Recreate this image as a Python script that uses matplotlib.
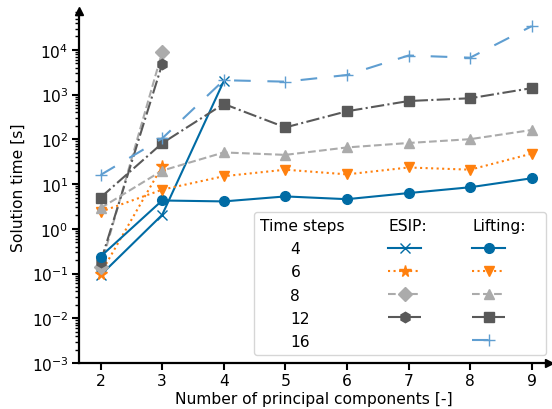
import numpy as np
import matplotlib.pyplot as plt
from matplotlib.lines import Line2D

# number of principal components
pcs = [2, 3, 4, 5, 6, 7, 8, 9]
time_steps = ["4", "6", "8", "12", "16"]

# ESIP solution times [s] (runs stop once they blow up)
esip_4 = [0.092, 2.05, 2000]
esip_6 = [0.1, 25]
esip_8 = [0.138, 8900]
esip_12 = [0.18, 4800]

# Lifting solution times [s]
lift_4 = [0.24, 4.3, 4.1, 5.3, 4.6, 6.3, 8.5, 13.5]
lift_6 = [2.4, 7.5, 15, 21, 16.5, 23.5, 21, 48]
lift_8 = [2.9, 20, 51, 45, 66, 83, 101, 162]
lift_12 = [5.0, 82, 620, 185, 425, 720, 830, 1400]
lift_16 = [16, 105, 2100, 1950, 2750, 7500, 6700, 34000]

colors = ["#006BA4", "#FF800E", "#ABABAB", "#595959", "#5F9ED1"]
styles = ["-", ":", "--", "-.", (0, (8, 8))]
esip_markers = ["x", "*", "D", "h"]
lift_markers = ["o", "v", "^", "s", "+"]

FS = 11.2
fig = plt.figure(figsize=(5.52, 4.1), dpi=100)
ax = fig.add_axes([79 / 552, 1 - 364 / 410, 470 / 552, 352 / 410])

esip_handles = []
for i, vals in enumerate([esip_4, esip_6, esip_8, esip_12]):
    (h,) = ax.plot(pcs[:len(vals)], vals, color=colors[i], ls=styles[i],
                   marker=esip_markers[i], lw=1.5, ms=7.5 if i != 1 else 8.5,
                   mew=1)
    esip_handles.append(h)

lift_handles = []
for i, vals in enumerate([lift_4, lift_6, lift_8, lift_12, lift_16]):
    (h,) = ax.plot(pcs, vals, color=colors[i], ls=styles[i],
                   marker=lift_markers[i], lw=1.5, ms=7 if i != 4 else 8,
                   mew=1)
    lift_handles.append(h)

ax.set_yscale("log")
ax.set_ylim(1e-3, 10 ** 4.87)
ax.set_xlim(1.65, 9.28)
ax.set_xticks(pcs)
ax.set_yticks([10.0 ** k for k in range(-3, 5)])
ax.set_xlabel("Number of principal components [-]", fontsize=FS, labelpad=2)
ax.set_ylabel("Solution time [s]", fontsize=FS)
ax.tick_params(labelsize=FS, width=1.5, length=5, pad=2.5)
ax.tick_params(which="minor", width=1, length=3)

for side in ["top", "right"]:
    ax.spines[side].set_visible(False)
for side in ["left", "bottom"]:
    ax.spines[side].set_linewidth(1.6)
ax.plot(1, 0, ">k", transform=ax.transAxes, clip_on=False, ms=6)
ax.plot(0, 1, "^k", transform=ax.transAxes, clip_on=False, ms=6)

# table-like legend: time steps | ESIP | Lifting
blank = Line2D([], [], alpha=0)
handles = [blank] * 6 + [blank] + esip_handles + [blank] + [blank] + lift_handles
labels = ["Time steps"] + time_steps + ["ESIP:"] + [""] * 5 + ["Lifting:"] + [""] * 5
leg = ax.legend(handles, labels, ncol=3, loc="lower right",
                bbox_to_anchor=(0.993, 0.023), borderaxespad=0,
                handlelength=2.12, handletextpad=0.45, columnspacing=2.83,
                labelspacing=0.52, fontsize=FS)

for c, col in enumerate(leg._legend_handle_box.get_children()):
    for r, item in enumerate(col.get_children()):
        hbox = item.get_children()[0]
        if r == 0:
            hbox.width = 0
            item.sep = 0
        elif c == 0:
            hbox.width = 22
            item.sep = 0
        elif c == 2:
            item.sep = 24.5

fig.savefig("out.png", dpi=100)
